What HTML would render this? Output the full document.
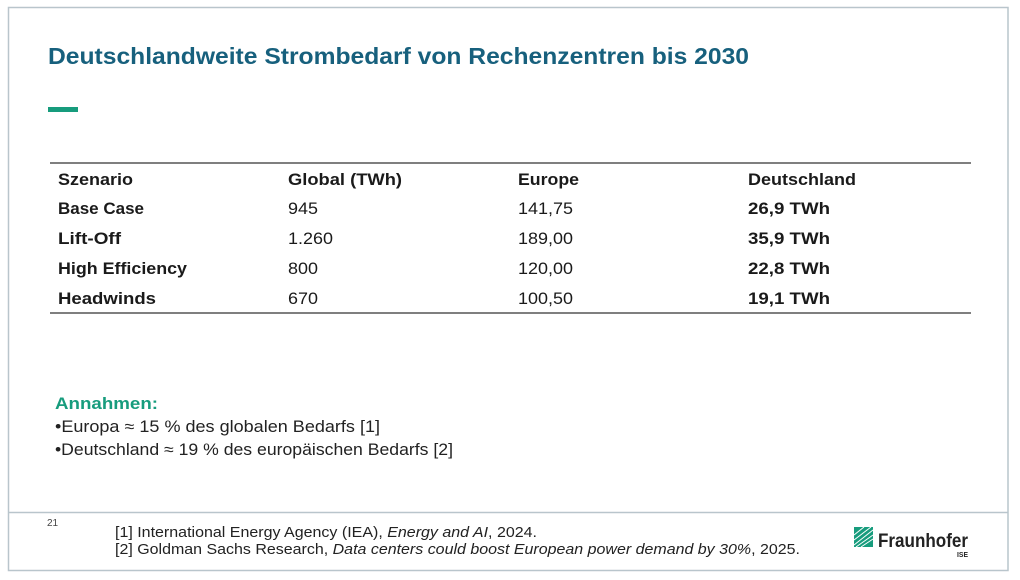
<!DOCTYPE html>
<html><head><meta charset="utf-8"><style>
html,body{margin:0;padding:0;background:#fff;}
svg{display:block;}
text{font-family:"Liberation Sans",sans-serif;}
</style></head><body>
<svg width="1020" height="580" viewBox="0 0 1020 580" xmlns="http://www.w3.org/2000/svg">
<rect x="0" y="0" width="1020" height="580" fill="#fff"/>
<rect x="8.5" y="7.5" width="999.5" height="563" fill="none" stroke="#b9c5cc" stroke-width="1.5"/>
<line x1="8.5" y1="512.5" x2="1008" y2="512.5" stroke="#b9c5cc" stroke-width="1.5"/>

<text x="48" y="64" font-size="23" font-weight="bold" fill="#17607d" textLength="701" lengthAdjust="spacingAndGlyphs">Deutschlandweite Strombedarf von Rechenzentren bis 2030</text>
<rect x="48" y="107" width="30" height="5" fill="#179c7d"/>

<line x1="50" y1="163" x2="971" y2="163" stroke="#555" stroke-width="1.5"/>
<line x1="50" y1="313" x2="971" y2="313" stroke="#555" stroke-width="1.5"/>

<g font-size="17" fill="#1a1a1a">
<text x="58" y="185" font-weight="bold" textLength="75" lengthAdjust="spacingAndGlyphs">Szenario</text>
<text x="288" y="185" font-weight="bold" textLength="114" lengthAdjust="spacingAndGlyphs">Global (TWh)</text>
<text x="518" y="185" font-weight="bold" textLength="61" lengthAdjust="spacingAndGlyphs">Europe</text>
<text x="748" y="185" font-weight="bold" textLength="108" lengthAdjust="spacingAndGlyphs">Deutschland</text>

<text x="58" y="214" font-weight="bold" textLength="86" lengthAdjust="spacingAndGlyphs">Base Case</text>
<text x="288" y="214" textLength="30" lengthAdjust="spacingAndGlyphs">945</text>
<text x="518" y="214" textLength="55" lengthAdjust="spacingAndGlyphs">141,75</text>
<text x="748" y="214" font-weight="bold" textLength="82" lengthAdjust="spacingAndGlyphs">26,9 TWh</text>

<text x="58" y="244" font-weight="bold" textLength="63" lengthAdjust="spacingAndGlyphs">Lift-Off</text>
<text x="288" y="244" textLength="45" lengthAdjust="spacingAndGlyphs">1.260</text>
<text x="518" y="244" textLength="55" lengthAdjust="spacingAndGlyphs">189,00</text>
<text x="748" y="244" font-weight="bold" textLength="82" lengthAdjust="spacingAndGlyphs">35,9 TWh</text>

<text x="58" y="274" font-weight="bold" textLength="129" lengthAdjust="spacingAndGlyphs">High Efficiency</text>
<text x="288" y="274" textLength="30" lengthAdjust="spacingAndGlyphs">800</text>
<text x="518" y="274" textLength="55" lengthAdjust="spacingAndGlyphs">120,00</text>
<text x="748" y="274" font-weight="bold" textLength="82" lengthAdjust="spacingAndGlyphs">22,8 TWh</text>

<text x="58" y="304" font-weight="bold" textLength="98" lengthAdjust="spacingAndGlyphs">Headwinds</text>
<text x="288" y="304" textLength="30" lengthAdjust="spacingAndGlyphs">670</text>
<text x="518" y="304" textLength="55" lengthAdjust="spacingAndGlyphs">100,50</text>
<text x="748" y="304" font-weight="bold" textLength="82" lengthAdjust="spacingAndGlyphs">19,1 TWh</text>
</g>

<text x="55" y="409" font-size="17" font-weight="bold" fill="#179c7d" textLength="103" lengthAdjust="spacingAndGlyphs">Annahmen:</text>
<text x="55" y="432" font-size="16.5" fill="#222" textLength="325" lengthAdjust="spacingAndGlyphs">•Europa ≈ 15 % des globalen Bedarfs [1]</text>
<text x="55" y="455" font-size="16.5" fill="#222" textLength="398" lengthAdjust="spacingAndGlyphs">•Deutschland ≈ 19 % des europäischen Bedarfs [2]</text>

<text x="47" y="526" font-size="10" fill="#444">21</text>
<text x="115" y="537" font-size="14.5" fill="#222" textLength="422" lengthAdjust="spacingAndGlyphs">[1] International Energy Agency (IEA), <tspan font-style="italic">Energy and AI</tspan>, 2024.</text>
<text x="115" y="554" font-size="14.5" fill="#222" textLength="685" lengthAdjust="spacingAndGlyphs">[2] Goldman Sachs Research, <tspan font-style="italic">Data centers could boost European power demand by 30%</tspan>, 2025.</text>

<g>
<rect x="854" y="527" width="19" height="20" fill="#179c7d"/>
<g stroke="#fff" stroke-width="1">
<line x1="854" y1="545" x2="873" y2="530"/>
<line x1="856" y1="547" x2="873" y2="535"/>
<line x1="861" y1="547" x2="873" y2="539"/>
<line x1="854" y1="540" x2="871" y2="527"/>
<line x1="854" y1="535" x2="864" y2="527"/>
</g>
<text x="878" y="547" font-size="19" font-weight="bold" fill="#222" textLength="90" lengthAdjust="spacingAndGlyphs">Fraunhofer</text>
<text x="957" y="557" font-size="7" font-weight="bold" fill="#222" textLength="11" lengthAdjust="spacingAndGlyphs">ISE</text>
</g>
</svg>
</body></html>
